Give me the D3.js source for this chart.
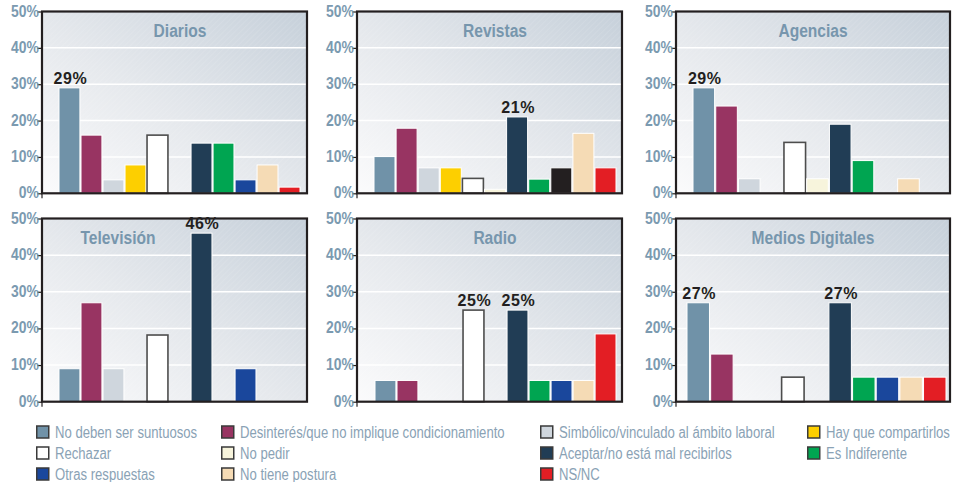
<!DOCTYPE html>
<html><head><meta charset="utf-8">
<script src="https://cdn.jsdelivr.net/npm/d3@7"></script>
<style>body{margin:0;background:#fff}svg{display:block}</style>
</head><body><svg id="chart" width="957" height="482"></svg>
<script>
// Response categories, in legend order
const categories = [
  "No deben ser suntuosos",
  "Desinterés/que no implique condicionamiento",
  "Simbólico/vinculado al ámbito laboral",
  "Hay que compartirlos",
  "Rechazar",
  "No pedir",
  "Aceptar/no está mal recibirlos",
  "Es Indiferente",
  "Otras respuestas",
  "No tiene postura",
  "NS/NC"
];
const colors = ["#7092a8","#983462","#cfd6dd","#fdcf00","#ffffff","#f7f4dc","#213d55","#00a551","#1a479c","#f5dbb5","#e31e24"];

// Media panels and their percentages (one value per category)
const panelNames = ["Diarios","Revistas","Agencias","Televisión","Radio","Medios Digitales"];
const diarios    = [29, 16, 3.7, 7.8, 16, 0, 13.8, 13.8, 3.7, 7.8, 1.7];
const revistas   = [10.1, 17.9, 7, 7, 4.1, 1.1, 21, 3.9, 7, 16.5, 7];
const agencias   = [29, 24, 4, 0, 14, 4, 19, 9, 0, 4, 0];
const television = [9, 27, 9, 0, 18.2, 0, 46, 0, 9, 0, 0];
const radio      = [5.8, 5.8, 0, 0, 25, 0, 25, 5.8, 5.8, 5.8, 18.5];
const digitales  = [27, 13, 0, 0, 6.7, 0, 27, 6.7, 6.7, 6.7, 6.7];
const panelValues = [diarios, revistas, agencias, television, radio, digitales];

// Bars that carry a value label (category indices per panel)
const labeledBars = [[0], [6], [0], [6], [4, 6], [0, 6]];
// In Revistas the "Otras respuestas" bar is printed in black
const barColorOverrides = [{}, {8: "#231f20"}, {}, {}, {}, {}];

const yTicks = [0, 10, 20, 30, 40, 50];

// Panel geometry
const rows = [{top: 11.5, base: 193.3}, {top: 218.5, base: 401.7}];
const layout = [
  {x0: 42,  x1: 307, bx0: 59,  bx1: 300, row: 0, titleX: 180},
  {x0: 357, x1: 622, bx0: 374, bx1: 616, row: 0, titleX: 495},
  {x0: 676, x1: 950, bx0: 693, bx1: 942, row: 0, titleX: 813},
  {x0: 42,  x1: 307, bx0: 59,  bx1: 300, row: 1, titleX: 118},
  {x0: 357, x1: 622, bx0: 375, bx1: 616, row: 1, titleX: 495},
  {x0: 676, x1: 950, bx0: 687, bx1: 946, row: 1, titleX: 813}
];

// Pick a condensed face if one is installed, otherwise squeeze a regular one
function hasFont(name) {
  const c = document.createElement("canvas").getContext("2d");
  const s = "abcdefghijklmnopqrstuvwxyz0123456789%";
  c.font = "20px monospace"; const a = c.measureText(s).width;
  c.font = `20px '${name}', monospace`; const b = c.measureText(s).width;
  return Math.abs(a - b) > 0.5;
}
const narrow = hasFont("Liberation Sans Narrow") ? "Liberation Sans Narrow" : null;
const condFamily = narrow ? `'${narrow}', sans-serif` : "'Liberation Sans', Arial, sans-serif";
const squeeze = narrow ? 1 : 0.82;

function condText(sel, x, y, txt) {
  return sel.append("text")
    .attr("transform", `translate(${x},${y}) scale(${squeeze},1)`)
    .attr("font-family", condFamily)
    .text(txt);
}

const svg = d3.select("#chart");
const defs = svg.append("defs");

const grad = defs.append("linearGradient").attr("id", "bg")
  .attr("x1", 0).attr("y1", 1).attr("x2", 1).attr("y2", 0);
grad.append("stop").attr("offset", 0).attr("stop-color", "#fbfbfc");
grad.append("stop").attr("offset", 0.45).attr("stop-color", "#e6e9ed");
grad.append("stop").attr("offset", 1).attr("stop-color", "#c6d0da");

const hatch = defs.append("pattern").attr("id", "hatch")
  .attr("width", 4).attr("height", 4).attr("patternUnits", "userSpaceOnUse")
  .attr("patternTransform", "rotate(45)");
hatch.append("line").attr("x1", 0).attr("y1", 0).attr("x2", 0).attr("y2", 4)
  .attr("stroke", "#ffffff").attr("stroke-opacity", 0.18).attr("stroke-width", 1);

panelNames.forEach((name, p) => {
  const L = layout[p], R = rows[L.row];
  const values = panelValues[p];
  const g = svg.append("g");

  const y = d3.scaleLinear().domain([0, 50]).range([R.base, R.top]);
  const x = d3.scaleBand().domain(d3.range(categories.length))
    .range([L.bx0, L.bx1]).paddingInner(0.05);

  // plot background
  g.append("rect").attr("x", L.x0).attr("y", R.top)
    .attr("width", L.x1 - L.x0).attr("height", R.base - R.top).attr("fill", "url(#bg)");
  g.append("rect").attr("x", L.x0).attr("y", R.top)
    .attr("width", L.x1 - L.x0).attr("height", R.base - R.top).attr("fill", "url(#hatch)");

  // gridlines
  g.selectAll(".grid").data(yTicks.filter(t => t > 0 && t < 50)).join("line")
    .attr("x1", L.x0).attr("x2", L.x1)
    .attr("y1", d => y(d)).attr("y2", d => y(d))
    .attr("stroke", "#ffffff").attr("stroke-width", 1.5);

  // y axis
  const axis = d3.axisLeft(y).tickValues(yTicks).tickSize(5).tickFormat("");
  const ax = g.append("g").attr("transform", `translate(${L.x0},0)`).call(axis);
  ax.select(".domain").remove();
  ax.selectAll(".tick line").attr("stroke", "#231f20").attr("stroke-width", 1.2);
  yTicks.forEach(t => {
    condText(g, L.x0 - 3, y(t) + 5, t + "%")
      .attr("text-anchor", "end").attr("font-size", 17).attr("font-weight", "bold")
      .attr("fill", "#7b9ab0");
  });

  // title
  condText(g, L.titleX, R.top + 25, name)
    .attr("text-anchor", "middle").attr("font-size", 19).attr("font-weight", "bold")
    .attr("fill", "#7796ad");

  // bars
  const over = barColorOverrides[p];
  g.selectAll(".bar").data(values.map((v, i) => ({v, i})).filter(d => d.v > 0)).join("rect")
    .attr("x", d => x(d.i)).attr("width", x.bandwidth())
    .attr("y", d => y(d.v)).attr("height", d => y(0) - y(d.v))
    .attr("fill", d => over[d.i] || colors[d.i])
    .attr("stroke", d => d.i === 4 ? "#4d4d4d" : "#ffffff")
    .attr("stroke-width", d => d.i === 4 ? 1.6 : 1);

  // value labels
  labeledBars[p].forEach(i => {
    g.append("text")
      .attr("x", x(i) + x.bandwidth() / 2 + 1).attr("y", y(values[i]) - 4)
      .attr("text-anchor", "middle").attr("font-family", "'Liberation Sans', Arial, sans-serif")
      .attr("font-size", 16).attr("font-weight", "bold").attr("letter-spacing", 0.6)
      .attr("fill", "#231f20").text(Math.round(values[i]) + "%");
  });

  // frame
  g.append("rect").attr("x", L.x0).attr("y", R.top)
    .attr("width", L.x1 - L.x0).attr("height", R.base - R.top)
    .attr("fill", "none").attr("stroke", "#231f20").attr("stroke-width", 2.2);
  g.append("line").attr("x1", L.x0).attr("x2", L.x0)
    .attr("y1", R.base).attr("y2", R.base + 5)
    .attr("stroke", "#231f20").attr("stroke-width", 1.2);
});

// legend: four columns, filled row by row
const legendCols = [36, 221, 540, 807];
const legendRows = [432, 453, 474];
const lg = svg.append("g");
categories.forEach((c, i) => {
  const cx = legendCols[i % 4], cy = legendRows[Math.floor(i / 4)];
  lg.append("rect").attr("x", cx + 0.75).attr("y", cy - 6)
    .attr("width", 12).attr("height", 12)
    .attr("fill", colors[i]).attr("stroke", "#3a3a3a").attr("stroke-width", 1.5);
  condText(lg, cx + 19, cy + 6, c)
    .attr("font-size", 16).attr("fill", "#8aa2b5");
});
</script>
</body></html>
